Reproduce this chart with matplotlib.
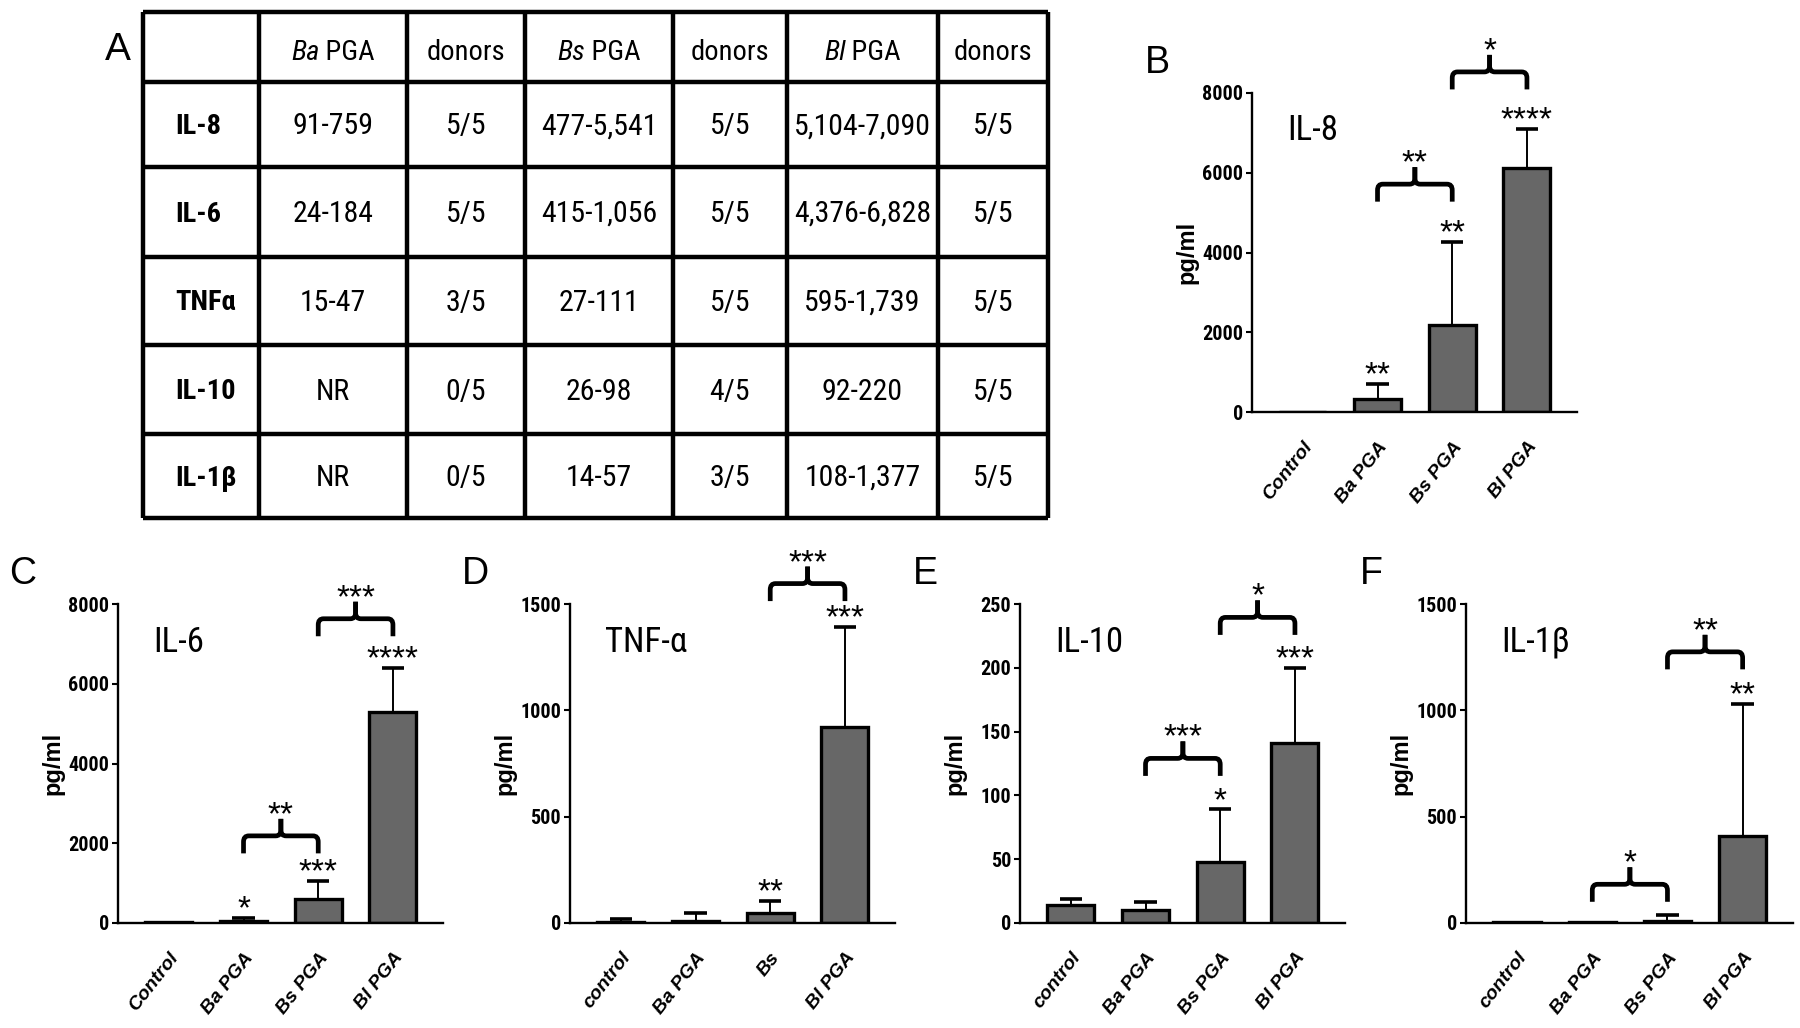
import numpy as np
import matplotlib
matplotlib.use("Agg")
import matplotlib.pyplot as plt
from matplotlib import font_manager
from matplotlib.path import Path
from matplotlib.patches import PathPatch

# ------------------ FONTS ------------------ #
# narrow face for the squeezed labels, if any is installed (regular weight preferred)
cond = [f for f in font_manager.fontManager.ttflist
        if f.stretch in ("condensed", "semi-condensed", "extra-condensed")
        or "narrow" in f.name.lower() or "condensed" in f.name.lower()]
cond = sorted(cond, key=lambda f: (f.style != "normal", abs(int(f.weight) - 400)
                                   if str(f.weight).isdigit() else 0))
NARROW, STRETCH, SQ = "Liberation Sans", "normal", 0.84
for pref in ["liberation", "roboto", "dejavu", "noto", "open", ""]:
    hits = [f for f in cond if pref in f.name.lower()]
    if hits:
        NARROW, STRETCH, SQ = hits[0].name, "condensed", 1.0
        break
WIDE = "Liberation Sans"
plt.rcParams["font.family"] = [WIDE, "DejaVu Sans"]

# ------------------ DATA ------------------ #
# panel A table
table_species = ["Ba", "Bs", "Bl"]
table_rows = ["IL-8", "IL-6", "TNF\u03b1", "IL-10", "IL-1\u03b2"]
ba_range = ["91-759", "24-184", "15-47", "NR", "NR"]
ba_donors = ["5/5", "5/5", "3/5", "0/5", "0/5"]
bs_range = ["477-5,541", "415-1,056", "27-111", "26-98", "14-57"]
bs_donors = ["5/5", "5/5", "5/5", "4/5", "3/5"]
bl_range = ["5,104-7,090", "4,376-6,828", "595-1,739", "92-220", "108-1,377"]
bl_donors = ["5/5", "5/5", "5/5", "5/5", "5/5"]

# bar panels B-F
groups_b = ["Control", "Ba PGA", "Bs PGA", "Bl PGA"]
groups_d = ["control", "Ba PGA", "Bs", "Bl PGA"]
groups_ef = ["control", "Ba PGA", "Bs PGA", "Bl PGA"]

il8_mean = [10, 336, 2185, 6109]
il8_err = [0, 378, 2075, 992]
il8_stars = [(1, "**"), (2, "**"), (3, "****")]
il8_brackets = [(1, 2, 5714, "**"), (2, 3, 8529, "*")]

il6_mean = [15, 50, 613, 5303]
il6_err = [0, 76, 446, 1084]
il6_stars = [(1, "*"), (2, "***"), (3, "****")]
il6_brackets = [(1, 2, 2185, "**"), (2, 3, 7630, "***")]

tnf_mean = [3, 8, 47, 923]
tnf_err = [17, 39, 56, 468]
tnf_stars = [(2, "**"), (3, "***")]
tnf_brackets = [(2, 3, 1596, "***")]

il10_mean = [14, 10.5, 47.6, 140.8]
il10_err = [4.7, 6.1, 41.4, 59.2]
il10_stars = [(2, "*"), (3, "***")]
il10_brackets = [(1, 2, 129, "***"), (2, 3, 239.5, "*")]

il1b_mean = [7, 5, 9, 408]
il1b_err = [0, 0, 27, 620]
il1b_stars = [(3, "**")]
il1b_brackets = [(1, 2, 182, "*"), (2, 3, 1275, "**")]

# ------------------ LAYOUT ------------------ #
W, H = 1800, 1028
fig = plt.figure(figsize=(W / 100, H / 100), dpi=100)
BAR = "#676767"
STAR_FS = 24


def rect(l, t, r, b):
    return [l / W, 1 - b / H, (r - l) / W, (b - t) / H]


def star(ax, x, y, s):
    # visual centre of the asterisks at (x, y)
    ax.annotate(s, (x, y), xytext=(0, -0.58 * STAR_FS), textcoords="offset points",
                ha="center", va="baseline", fontsize=STAR_FS,
                family=WIDE, annotation_clip=False)


def brace(ax, i, j, yh, dpp, label):
    yb = yh - 17.5 * dpp
    yt = yh + 17 * dpp
    rx, ry = 0.07, 6 * dpp
    xm = (i + j) / 2
    for a, sgn in [(i, 1), (j, -1)]:
        verts = [(a, yb), (a, yh - ry), (a, yh), (a + sgn * rx, yh),
                 (xm - sgn * rx, yh), (xm, yh), (xm, yh + ry), (xm, yt)]
        codes = [Path.MOVETO, Path.LINETO, Path.CURVE3, Path.CURVE3,
                 Path.LINETO, Path.CURVE3, Path.CURVE3, Path.LINETO]
        ax.add_patch(PathPatch(Path(verts, codes), fill=False, lw=3.4,
                               capstyle="butt", clip_on=False))
    star(ax, xm, yt + 14 * dpp, label)


def panel(box, cats, mean, err, ymax, step, stars, brackets, title, letter):
    l, t, r, b = box
    ax = fig.add_axes(rect(l, t, r, b))
    x = np.arange(len(cats))
    mean = np.array(mean, dtype=float)
    err = np.array(err, dtype=float)
    ax.bar(x, mean, width=0.63, color=BAR, edgecolor="black", linewidth=2.4, zorder=2)
    has = err > 0
    ax.vlines(x[has], mean[has], (mean + err)[has], color="black", lw=1.4, zorder=1)
    ax.hlines((mean + err)[has], x[has] - 0.15, x[has] + 0.15, color="black", lw=2.6, zorder=3)

    ax.set_xlim(-0.68, 3.67)
    ax.set_ylim(0, ymax)
    ax.set_yticks(np.arange(0, ymax + 1, step))
    for side in ["top", "right"]:
        ax.spines[side].set_visible(False)
    for side in ["left", "bottom"]:
        ax.spines[side].set_linewidth(1.7)
    ax.tick_params(axis="y", length=4.5, width=1.5, pad=2, labelsize=14.5 * SQ)
    for lab in ax.get_yticklabels():
        lab.set_fontweight("bold")
        lab.set_family(NARROW)
        lab.set_fontstretch(STRETCH)
    ax.set_xticks(x)
    ax.set_xticklabels(cats, rotation=52, ha="right", va="top", rotation_mode="anchor",
                       fontstyle="italic", fontweight="bold", family=WIDE, fontsize=14)
    ax.tick_params(axis="x", length=0, pad=19)
    ax.set_ylabel("pg/ml", fontsize=17, fontweight="bold", family=WIDE)
    ax.yaxis.set_label_coords(-0.165, 0.5)

    dpp = ymax / (b - t)
    for i, s in stars:
        star(ax, i, mean[i] + err[i] + 19 * dpp, s)
    for i, j, yh, s in brackets:
        brace(ax, i, j, yh, dpp, s)

    fig.text((l + 35) / W, 1 - (t + 38) / H, title, fontsize=25 * SQ, family=NARROW,
             fontstretch=STRETCH, ha="left", va="center")
    fig.text((l - 95) / W, 1 - (t - 30) / H, letter, fontsize=27, family=WIDE,
             ha="center", va="center")
    return ax


panel((1252, 93, 1577, 412), groups_b, il8_mean, il8_err, 8000, 2000,
      il8_stars, il8_brackets, "IL-8", "B")
panel((118, 604, 443, 923), groups_b, il6_mean, il6_err, 8000, 2000,
      il6_stars, il6_brackets, "IL-6", "C")
panel((570, 604, 895, 923), groups_d, tnf_mean, tnf_err, 1500, 500,
      tnf_stars, tnf_brackets, "TNF-\u03b1", "D")
panel((1020, 604, 1345, 923), groups_ef, il10_mean, il10_err, 250, 50,
      il10_stars, il10_brackets, "IL-10", "E")
panel((1466, 604, 1793, 923), groups_ef, il1b_mean, il1b_err, 1500, 500,
      il1b_stars, il1b_brackets, "IL-1\u03b2", "F")

# ------------------ TABLE ------------------ #
tab = fig.add_axes([0, 0, 1, 1], zorder=-1)
tab.set_xlim(0, W)
tab.set_ylim(H, 0)
tab.axis("off")
col_edges = [143, 259, 407, 525, 673, 787, 938, 1048]
row_edges = [12, 82, 167, 257, 345, 434, 518]
tab.vlines(col_edges, row_edges[0], row_edges[-1], color="black", lw=3.2)
tab.hlines(row_edges, col_edges[0], col_edges[-1], color="black", lw=3.2)

cx = [(col_edges[k] + col_edges[k + 1]) / 2 for k in range(len(col_edges) - 1)]
cy = [(row_edges[k] + row_edges[k + 1]) / 2 for k in range(len(row_edges) - 1)]
tkw = dict(family=NARROW, fontstretch=STRETCH, va="center")
HEAD_FS, CELL_FS = 20.5 * SQ, 21.5 * SQ

# header: italic species name + plain "PGA", measured so the pair is centred
renderer = fig.canvas.get_renderer()
for k, sp in enumerate(table_species):
    c = cx[1 + 2 * k]
    t1 = tab.text(c, cy[0] + 6, sp, ha="left", fontsize=HEAD_FS, fontstyle="italic", **tkw)
    t2 = tab.text(c, cy[0] + 6, "\u00a0PGA", ha="left", fontsize=HEAD_FS, **tkw)
    w1 = t1.get_window_extent(renderer).width
    w2 = t2.get_window_extent(renderer).width
    t1.set_x(c - (w1 + w2) / 2)
    t2.set_x(c - (w1 + w2) / 2 + w1)
    tab.text(cx[2 + 2 * k], cy[0] + 6, "donors", ha="center", fontsize=HEAD_FS, **tkw)

columns = [ba_range, ba_donors, bs_range, bs_donors, bl_range, bl_donors]
for r, name in enumerate(table_rows):
    tab.text(175, cy[r + 1] + 2, name, ha="left", fontsize=HEAD_FS, fontweight="bold", **tkw)
    for k, col in enumerate(columns):
        tab.text(cx[k + 1], cy[r + 1] + 2, col[r], ha="center", fontsize=CELL_FS, **tkw)
tab.text(118, 50, "A", ha="center", va="center", fontsize=28, family=WIDE)

fig.savefig("out.png", dpi=100)
